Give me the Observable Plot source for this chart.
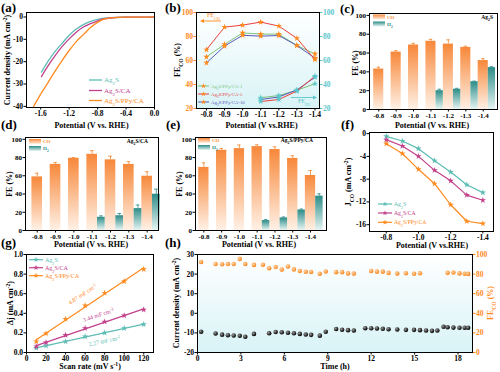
<!DOCTYPE html>
<html><head><meta charset="utf-8">
<script src="https://cdn.jsdelivr.net/npm/d3@7"></script>
<script src="https://cdn.jsdelivr.net/npm/@observablehq/plot@0.6"></script>
<style>
body{margin:0;background:#fff;}
#root{position:relative;width:500px;height:372px;overflow:hidden;background:#fff;}
#root svg{position:absolute;overflow:visible;}
</style></head><body><div id="root"></div>
<script>
// ---------------- DATA ----------------
// (a) LSV
const lsvPot_Ag2S=[-1.59,-1.5,-1.4,-1.3,-1.2,-1.1,-1.0,-0.9,-0.8,-0.7,-0.6,-0.4,-0.2,0];
const lsvJ_Ag2S  =[-24.7,-20,-15.5,-11.8,-8.2,-5.4,-3.4,-2.0,-1.1,-0.5,-0.25,-0.1,-0.05,0];
const lsvPot_CA  =[-1.59,-1.5,-1.4,-1.3,-1.2,-1.1,-1.0,-0.9,-0.8,-0.7,-0.6,-0.4,-0.2,0];
const lsvJ_CA    =[-26.7,-22,-17.4,-13.3,-9.8,-6.8,-4.5,-3.0,-1.7,-0.8,-0.35,-0.1,-0.05,0];
const lsvPot_PPy =[-1.7,-1.6,-1.5,-1.4,-1.3,-1.2,-1.1,-1.0,-0.9,-0.8,-0.7,-0.6,-0.4,-0.2,0];
const lsvJ_PPy   =[-40,-34.5,-29.5,-24.3,-19.5,-15,-11,-7.9,-4.7,-2.4,-0.9,-0.4,-0.1,-0.05,0];
// potentials
const potentials=[-0.8,-0.9,-1.0,-1.1,-1.2,-1.3,-1.4];
const potLabels=["-0.8","-0.9","-1.0","-1.1","-1.2","-1.3","-1.4"];
const potH2=[-1.1,-1.2,-1.3,-1.4];
// (b) FE vs PPy loading
const feCO_CA1=[63,73.5,83,82,82,72.5,65.5],  feH2_CA1=[29,30.8,35.2,40.7];
const feCO_CA5=[69,87.8,89.5,92,88.7,78.5,60.8], feH2_CA5=[25.8,27.5,34.5,47];
const feCO_CA10=[58,72,81,80.3,80.8,72.5,62], feH2_CA10=[27.5,29.6,35.5,46];
// (c) Ag2S
const cCO=[43,61,68.5,72.5,69.5,66,52], cCOerr=[2,1.5,1.8,2,4.5,1.2,2];
const cH2=[20,21.5,29.5,44.5], cH2err=[1.5,1,0.6,1];
// (d) Ag2S/CA
const dCO=[58.8,72.5,79.2,83.6,77.5,72.5,59.5], dCOerr=[4,2,0.8,4,4,3,5];
const dH2=[14.5,16.2,24,39.8], dH2err=[1.5,2.5,4,5.5];
// (e) Ag2S/PPy/CA
const eCO=[69.2,88,89.8,92,88.8,79,60.3], eCOerr=[5,2,4,2,3,3,5.5];
const eH2=[10.9,13.8,22.5,37.7], eH2err=[1,1,1,2.5];
// (f) partial current density
const jco_Ag2S=[-0.47,-1.29,-2.64,-4.75,-6.74,-8.97,-10.37];
const jco_CA=[-1.06,-2.17,-3.99,-6.45,-8.3,-10.8,-11.7];
const jco_PPy=[-1.76,-3.5,-6.27,-8.8,-12.5,-15.4,-15.8];
// (g) double-layer
const scanRates=[10,20,40,60,80,100,120];
const dj_Ag2S=[0.045,0.068,0.112,0.162,0.2,0.248,0.287];
const dj_CA=[0.062,0.102,0.177,0.248,0.313,0.377,0.437];
const dj_PPy=[0.113,0.193,0.341,0.48,0.608,0.726,0.85];
// (h) stability
const timeJ=[0.25,1.25,1.7,2.1,2.5,2.92,3.3,3.9,4.95,5.4,5.82,6.25,6.66,7.07,7.48,7.85,8.45,8.86,9.58,9.99,10.4,10.8,11.59,12.0,12.4,12.8,13.2,13.8,14.4,14.96,15.37,15.79,16.2,16.57,17.0,17.28,17.68,18.1,18.46,18.7];
const curJ=[-9.4,-10.3,-10.9,-11.2,-11.35,-11.45,-11.95,-10.5,-10.2,-9.55,-9.7,-9.9,-10.2,-10.5,-10.85,-11.0,-11.4,-9.4,-8.0,-8.4,-8.6,-8.8,-7.6,-7.65,-7.75,-7.9,-8.1,-8.3,-8.45,-8.45,-8.6,-8.8,-8.95,-8.8,-6.9,-7.1,-7.3,-7.4,-7.35,-7.35];
const timeFE=[0.25,1.25,1.7,2.1,2.5,2.92,3.3,3.9,4.52,4.95,5.4,5.82,6.25,6.66,7.07,7.48,7.85,8.45,8.86,9.58,9.99,10.4,10.8,12.0,12.4,12.8,13.2,13.8,14.4,14.96,15.37,17.28,17.68,18.1,18.46,18.7];
const feStab=[92.4,90.3,90,90.3,90.3,95.5,90.3,89.4,89.6,86,87.2,84.6,87.8,84.8,83.1,82.4,82.2,80.4,82.6,82,82,80.7,80.5,83.2,82.5,82.5,81.2,80.5,80.8,80.3,80.8,81.3,81.6,80.7,80.3,80.2];

// ---------------- STYLE ----------------
const FONT='"Liberation Serif","Times New Roman",serif';
const ORANGE="#FF8A1E", MAGENTA="#C2408C", TEAL="#5DBDB4", CYAN="#5CC6CC";
const GREEN="#7CC47A", RED="#E8413C", BLUE="#5A5AB8";
const root=document.getElementById("root");
const NS="http://www.w3.org/2000/svg";

// gradients
const defs=d3.select(root).append("svg").attr("width",0).attr("height",0).append("defs");
function lin(id,top,bottom){const g=defs.append("linearGradient").attr("id",id).attr("x1",0).attr("y1",0).attr("x2",0).attr("y2",1);
 g.append("stop").attr("offset","0%").attr("stop-color",top);g.append("stop").attr("offset","100%").attr("stop-color",bottom);}
lin("gCO","#F7883A","#FFF1E6"); lin("gH2","#2C8C87","#E6F5F3"); lin("gBg","#FFFFFF","#D8F3F6");
function rad(id,c0,c1){const g=defs.append("radialGradient").attr("id",id).attr("cx","35%").attr("cy","35%").attr("r","65%");
 g.append("stop").attr("offset","0%").attr("stop-color",c0);g.append("stop").attr("offset","100%").attr("stop-color",c1);}
rad("gBallK","#9a9a9a","#000"); rad("gBallO","#FFD6A8","#F7861E");

function mk(opts,left,top,fs="7.5px"){const svg=Plot.plot({...opts,style:{fontFamily:FONT,fontSize:fs,fontWeight:"bold",background:"transparent",overflow:"visible",color:"#000"}});
  svg.style.position="absolute";svg.style.left=left+"px";svg.style.top=top+"px";root.appendChild(svg);return svg;}
const AX=o=>Plot.axisX({tickSize:2.5,tickPadding:1,label:null,...o});
const AY=o=>Plot.axisY({tickSize:2.5,tickPadding:1,label:null,...o});
const f1=d=>d.toFixed(1);
const rows=(xs,ys)=>xs.map((x,i)=>({x,y:ys[i]}));

// ---------------- (a) ----------------
mk({width:165,height:125,marginLeft:26,marginTop:12,marginRight:11,marginBottom:18,
 x:{domain:[-1.8,0]},y:{domain:[-40.5,2]},
 marks:[
  Plot.line(rows(lsvPot_Ag2S,lsvJ_Ag2S),{x:"x",y:"y",stroke:TEAL,strokeWidth:1.3,curve:"monotone-x"}),
  Plot.line(rows(lsvPot_CA,lsvJ_CA),{x:"x",y:"y",stroke:MAGENTA,strokeWidth:1.3,curve:"monotone-x"}),
  Plot.line(rows(lsvPot_PPy,lsvJ_PPy),{x:"x",y:"y",stroke:ORANGE,strokeWidth:1.3,curve:"monotone-x"}),
  AX({ticks:[-1.6,-1.2,-0.8,-0.4,0],tickFormat:f1}),
  AY({ticks:[0,-10,-20,-30,-40],tickFormat:d=>String(d)}),
  Plot.frame({stroke:"#000",strokeWidth:1})
 ]},0,0);

// ---------------- (b) ----------------
function feSeries(co,h2,col){return [
  Plot.line(rows(potentials,co),{x:"x",y:"y",stroke:col,strokeWidth:1}),
  Plot.dot(rows(potentials,co),{x:"x",y:"y",fill:ORANGE,symbol:"star",r:2}),
  Plot.line(rows(potH2,h2),{x:"x",y:"y",stroke:col,strokeWidth:1}),
  Plot.dot(rows(potH2,h2),{x:"x",y:"y",fill:CYAN,symbol:"star",r:2})];}
mk({width:170,height:125,marginLeft:31,marginTop:12,marginRight:16,marginBottom:17,
 x:{domain:[-0.745,-1.425]},y:{domain:[20,100]},
 marks:[
  Plot.frame({fill:"url(#gBg)",stroke:"none"}),
  ...feSeries(feCO_CA1,feH2_CA1,GREEN),
  ...feSeries(feCO_CA10,feH2_CA10,BLUE),
  ...feSeries(feCO_CA5,feH2_CA5,RED),
  AX({ticks:potentials,tickFormat:f1}),
  AY({ticks:[20,40,60,80,100],color:ORANGE}),
  AY({anchor:"right",ticks:[20,40,60,80,100],color:CYAN}),
  Plot.frame({stroke:"#000",strokeWidth:1})
 ]},165,0);

// ---------------- bars (c,d,e) ----------------
function barPanel(co,coErr,h2,h2Err,dom,dims,left,top){
  const coRows=co.map((v,i)=>({i,v,e:coErr[i]}));
  const h2Rows=h2.map((v,k)=>({i:potentials.indexOf(potH2[k]),v,e:h2Err[k]}));
  const W=0.29;
  return mk({...dims,x:{domain:dom},y:{domain:[0,102]},
   marks:[
    Plot.ruleX(coRows,{x:"i",y1:d=>d.v,y2:d=>d.v+d.e,stroke:"#F3852E",strokeWidth:0.8}),
    Plot.ruleY(coRows,{y:d=>d.v+d.e,x1:d=>d.i-0.1,x2:d=>d.i+0.1,stroke:"#F3852E",strokeWidth:0.8}),
    Plot.rectY(coRows,{x1:d=>d.i-W,x2:d=>d.i+W,y:"v",fill:"url(#gCO)"}),
    Plot.ruleX(h2Rows,{x:d=>d.i+0.5,y1:d=>d.v,y2:d=>d.v+d.e,stroke:"#2C8C87",strokeWidth:0.8}),
    Plot.ruleY(h2Rows,{y:d=>d.v+d.e,x1:d=>d.i+0.4,x2:d=>d.i+0.6,stroke:"#2C8C87",strokeWidth:0.8}),
    Plot.rectY(h2Rows,{x1:d=>d.i+W,x2:d=>d.i+0.71,y:"v",fill:"url(#gH2)"}),
    AX({ticks:d3.range(potLabels.length),tickFormat:i=>potLabels[i]}),
    AY({ticks:[0,20,40,60,80,100]}),
    Plot.frame({stroke:"#000",strokeWidth:1})
   ]},left,top,"7px");
}
barPanel(cCO,cCOerr,cH2,cH2err,[-0.53,6.82],{width:170,height:125,marginLeft:39,marginTop:13,marginRight:3,marginBottom:16},330,0);
barPanel(dCO,dCOerr,dH2,dH2err,[-0.64,6.62],{width:165,height:125,marginLeft:25,marginTop:12,marginRight:7,marginBottom:20},0,125);
barPanel(eCO,eCOerr,eH2,eH2err,[-0.47,6.9],{width:170,height:125,marginLeft:30,marginTop:12,marginRight:9,marginBottom:20},165,125);

// ---------------- (f) ----------------
function lineDots(xs,ys,col){return [Plot.line(rows(xs,ys),{x:"x",y:"y",stroke:col,strokeWidth:1.2}),
  Plot.dot(rows(xs,ys),{x:"x",y:"y",fill:col,symbol:"star",r:2})];}
mk({width:170,height:125,marginLeft:39,marginTop:7,marginRight:7,marginBottom:19,
 x:{domain:[-0.696,-1.466]},y:{domain:[-17.2,0.2]},
 marks:[
  ...lineDots(potentials,jco_Ag2S,TEAL),
  ...lineDots(potentials,jco_CA,MAGENTA),
  ...lineDots(potentials,jco_PPy,ORANGE),
  AX({ticks:[-0.8,-1.0,-1.2,-1.4],tickFormat:f1}),
  AY({ticks:[0,-4,-8,-12,-16],tickFormat:d=>String(d)}),
  Plot.frame({stroke:"#000",strokeWidth:1})
 ]},330,125);

// ---------------- (g) ----------------
function regDots(xs,ys,col){return [Plot.linearRegressionY(rows(xs,ys),{x:"x",y:"y",stroke:col,strokeWidth:1.2,ci:0}),
  Plot.dot(rows(xs,ys),{x:"x",y:"y",fill:col,symbol:"star",r:2})];}
mk({width:165,height:127,marginLeft:26,marginTop:9,marginRight:12,marginBottom:20,
 x:{domain:[0,130]},y:{domain:[0,1]},
 marks:[
  ...regDots(scanRates,dj_Ag2S,TEAL),
  ...regDots(scanRates,dj_CA,MAGENTA),
  ...regDots(scanRates,dj_PPy,ORANGE),
  AX({ticks:[0,20,40,60,80,100,120]}),
  AY({ticks:[0,0.2,0.4,0.6,0.8,1.0],tickFormat:f1}),
  Plot.frame({stroke:"#000",strokeWidth:1})
 ]},0,245);

// ---------------- (h) ----------------
// right axis (FE 0–100) shares the frame with left axis (-20–30): FE -> FE/2 - 20
const feToLeft=v=>v/2-20;
mk({width:335,height:127,marginLeft:32,marginTop:9,marginRight:28,marginBottom:20,
 x:{domain:[0,19]},y:{domain:[-20,30]},
 marks:[
  Plot.frame({fill:"url(#gBg)",stroke:"none"}),
  Plot.dot(rows(timeJ,curJ),{x:"x",y:"y",fill:"url(#gBallK)",r:2.3}),
  Plot.dot(rows(timeFE,feStab),{x:"x",y:d=>feToLeft(d.y),fill:"url(#gBallO)",r:2.3}),
  AX({ticks:[0,3,6,9,12,15,18]}),
  AY({ticks:[-20,-10,0,10,20,30],tickFormat:d=>String(d)}),
  AY({anchor:"right",ticks:[-20,-10,0,10,20,30],tickFormat:d=>String((d+20)*2),color:ORANGE}),
  Plot.frame({stroke:"#000",strokeWidth:1})
 ]},165,245);

// ---------------- overlay text ----------------
const ov=d3.select(root).append("svg").attr("width",500).attr("height",372).style("left","0px").style("top","0px").style("font-family",FONT);
function rich(el,str){
  const re=/([_^])\{([^}]*)\}/g;let last=0,m;const parts=[];
  while((m=re.exec(str))){if(m.index>last)parts.push([0,str.slice(last,m.index)]);parts.push([m[1]==="_"?1:-1,m[2]]);last=re.lastIndex;}
  if(last<str.length)parts.push([0,str.slice(last)]);
  for(const [t,s] of parts){const ts=document.createElementNS(NS,"tspan");ts.textContent=s;
    if(t){ts.setAttribute("font-size","70%");ts.setAttribute("baseline-shift",t>0?"sub":"super");}
    el.appendChild(ts);}
}
function T(x,y,str,o={}){const {size=8,weight="bold",fill="#000",anchor="start",rotate=0}=o;
  const t=ov.append("text").attr("transform",`translate(${x},${y}) rotate(${rotate})`).attr("font-size",size)
   .attr("font-weight",weight).attr("fill",fill).attr("text-anchor",anchor);rich(t.node(),str);}
function L(x1,y1,x2,y2,col,w=1.2){ov.append("line").attr("x1",x1).attr("y1",y1).attr("x2",x2).attr("y2",y2).attr("stroke",col).attr("stroke-width",w);}
function S(x,y,col,size=10){ov.append("path").attr("d",d3.symbol(d3.symbolStar,size)()).attr("transform",`translate(${x},${y})`).attr("fill",col);}
function R(x,y,w,h,fill){ov.append("rect").attr("x",x).attr("y",y).attr("width",w).attr("height",h).attr("fill",fill);}

// panel letters
[["(a)",1,11.5],["(b)",165,11.5],["(c)",340,12.5],["(d)",1,128.5],["(e)",166,128.5],["(f)",341,128.5],["(g)",1,246.5],["(h)",165,246.5]]
 .forEach(([s,x,y])=>T(x,y,s,{size:13}));

// axis titles
T(91.5,128,"Potential (V vs. RHE)",{anchor:"middle"});
T(10,60,"Current density (mA cm^{-2})",{anchor:"middle",rotate:-90});
T(261.5,128,"Potential (V vs.RHE)",{anchor:"middle"});
T(180,60,"FE_{CO} (%)",{anchor:"middle",rotate:-90});
T(432,128,"Potential (V vs. RHE)",{anchor:"middle"});
T(358,63,"FE (%)",{anchor:"middle",rotate:-90});
T(91,247,"Potential (V vs. RHE)",{anchor:"middle"});
T(12,184,"FE (%)",{anchor:"middle",rotate:-90});
T(259,247,"Potential (V vs. RHE)",{anchor:"middle"});
T(182,184,"FE (%)",{anchor:"middle",rotate:-90});
T(432,248,"Potential (V vs.RHE)",{anchor:"middle"});
T(351,182,"J_{CO} (mA cm^{-2})",{anchor:"middle",rotate:-90});
T(90,369,"Scan rate (mV s^{-1})",{anchor:"middle"});
T(12.5,303,"Δj (mA cm^{-2})",{anchor:"middle",rotate:-90});
T(335,369,"Time (h)",{anchor:"middle"});
T(179,303,"Current density (mA cm^{-2})",{anchor:"middle",rotate:-90});
T(493,303,"FE_{CO} (%)",{anchor:"middle",rotate:-90,fill:ORANGE});

// (a) legend
[["Ag_{2}S",TEAL,80],["Ag_{2}S/CA",MAGENTA,90.5],["Ag_{2}S/PPy/CA",ORANGE,100.5]].forEach(([s,c,y])=>{
  L(89,y,102,y,c,1.3);T(104,y+2.3,s,{size:7,weight:"normal",fill:c});});

// (b) legend + annotations
[["Ag_{2}S/PPy/CA-1",GREEN,86],["Ag_{2}S/PPy/CA-5",RED,94],["Ag_{2}S/PPy/CA-10",BLUE,102]].forEach(([s,c,y])=>{
  L(198,y,209,y,c,1);S(203.5,y,ORANGE,9);T(211,y+1.7,s,{size:4.8,weight:"normal",fill:c});});
T(207,17,"FE_{CO}",{size:6,weight:"normal",fill:ORANGE});
L(203,21,221,21,ORANGE,0.9);ov.append("path").attr("d","M200,21 L204,19 L204,23 Z").attr("fill",ORANGE);
T(298,103,"FE_{H2}",{size:6,weight:"normal",fill:CYAN});
L(291,97.5,314,97.5,CYAN,0.9);ov.append("path").attr("d","M317,97.5 L313,95.5 L313,99.5 Z").attr("fill",CYAN);

// (c)(d)(e) legends
function barLegend(x,y,label,lx,ly){R(x,y,12,5,"url(#gCO)");T(x+14,y+4.3,"CO",{size:5,fill:ORANGE});
  R(x,y+7,12,5,"url(#gH2)");T(x+14,y+11.3,"H_{2}",{size:5,fill:"#2C8C87"});T(lx,ly,label,{size:5.5,anchor:"end"});}
barLegend(373,14.5,"Ag_{2}S",493,18.5);
barLegend(29,139,"Ag_{2}S/CA",148,142.5);
barLegend(198,138,"Ag_{2}S/PPy/CA",313,142);

// (f) legend
[["Ag_{2}S",TEAL,204],["Ag_{2}S/CA",MAGENTA,213],["Ag_{2}S/PPy/CA",ORANGE,222.3]].forEach(([s,c,y])=>{
  L(378,y,392,y,c,1.2);S(385,y,c,9);T(394,y+2,s,{size:5.7,weight:"normal",fill:c});});
// (g) legend + slope labels
[["Ag_{2}S",TEAL,259.7],["Ag_{2}S/CA",MAGENTA,267.7],["Ag_{2}S/PPy/CA",ORANGE,275.7]].forEach(([s,c,y])=>{
  L(29,y,43,y,c,1.2);S(36,y,c,9);T(45,y+2,s,{size:6,weight:"normal",fill:c});});
T(83.5,296,"4.87 mF cm^{-2}",{size:6,weight:"normal",fill:ORANGE,anchor:"middle",rotate:-34});
T(99,317,"3.44 mF cm^{-2}",{size:6,weight:"normal",fill:MAGENTA,anchor:"middle",rotate:-19});
T(105,343,"2.27 mF cm^{-2}",{size:6,weight:"normal",fill:TEAL,anchor:"middle",rotate:-12});
</script></body></html>
